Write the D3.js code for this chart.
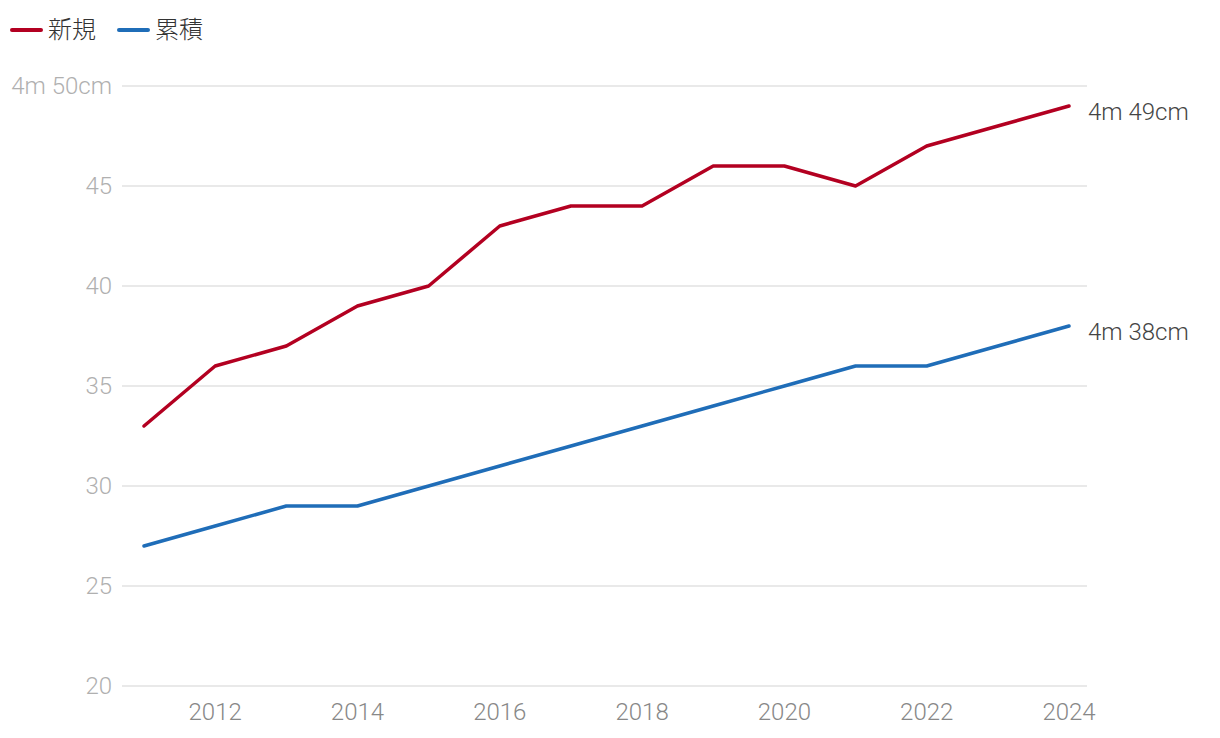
<!DOCTYPE html>
<html><head><meta charset="utf-8">
<script src="https://cdn.jsdelivr.net/npm/d3@7"></script>
<style>body{margin:0;background:#fff}svg{display:block;font-family:Roboto,"Noto Sans CJK JP",sans-serif}</style>
</head><body><svg id="c" width="1220" height="738"></svg>
<script>
const years = [2011,2012,2013,2014,2015,2016,2017,2018,2019,2020,2021,2022,2023,2024];
const newValues = [33,36,37,39,40,43,44,44,46,46,45,47,48,49];
const cumValues = [27,28,29,29,30,31,32,33,34,35,36,36,37,38];
const seriesNames = ["新規","累積"];
const seriesColors = ["#b30021","#1f6db8"];
const yTicks = [20,25,30,35,40,45,50];
const yTickLabels = ["20","25","30","35","40","45","4m 50cm"];
const xTicks = [2012,2014,2016,2018,2020,2022,2024];
const endLabels = ["4m 49cm","4m 38cm"];

const svg = d3.select("#c");
const x = d3.scaleLinear().domain([2011,2024]).range([144,1069]);
const y = d3.scaleLinear().domain([20,50]).range([686,86]);

svg.append("g").selectAll("line").data(yTicks).join("line")
  .attr("x1",122).attr("x2",1087)
  .attr("y1",d=>y(d)).attr("y2",d=>y(d))
  .attr("stroke","#e2e2e2").attr("stroke-width",1.5);
svg.append("g").selectAll("text").data(yTicks).join("text")
  .attr("x",112).attr("y",d=>y(d)).attr("dy","0.35em")
  .attr("text-anchor","end").attr("fill","#b0b0b0").attr("font-size",24).attr("font-weight",300)
  .text((d,i)=>yTickLabels[i]);
svg.append("g").selectAll("text").data(xTicks).join("text")
  .attr("x",d=>x(d)).attr("y",712).attr("dy","0.35em")
  .attr("text-anchor","middle").attr("fill","#888").attr("font-size",24).attr("font-weight",300)
  .text(d=>d);

const line = d3.line().x((d,i)=>x(years[i])).y(d=>y(d));
const data = [newValues, cumValues];
data.forEach((vals,k)=>{
  svg.append("path").datum(vals).attr("d",line)
    .attr("fill","none").attr("stroke",seriesColors[k]).attr("stroke-width",3.5)
    .attr("stroke-linejoin","round").attr("stroke-linecap","round");
  svg.append("text").attr("x",x(2024)+19).attr("y",y(vals[vals.length-1])+6).attr("dy","0.35em")
    .attr("fill","#444").attr("font-size",24).attr("font-weight",300).text(endLabels[k]);
});

const leg = [{x:10},{x:117}];
leg.forEach((l,k)=>{
  svg.append("line").attr("x1",l.x+2).attr("x2",l.x+31).attr("y1",30).attr("y2",30)
    .attr("stroke",seriesColors[k]).attr("stroke-width",4).attr("stroke-linecap","round");
  svg.append("text").attr("x",l.x+38).attr("y",30).attr("dy","0.35em")
    .attr("fill","#333").attr("font-size",24).attr("font-weight",300).text(seriesNames[k]);
});
</script></body></html>
